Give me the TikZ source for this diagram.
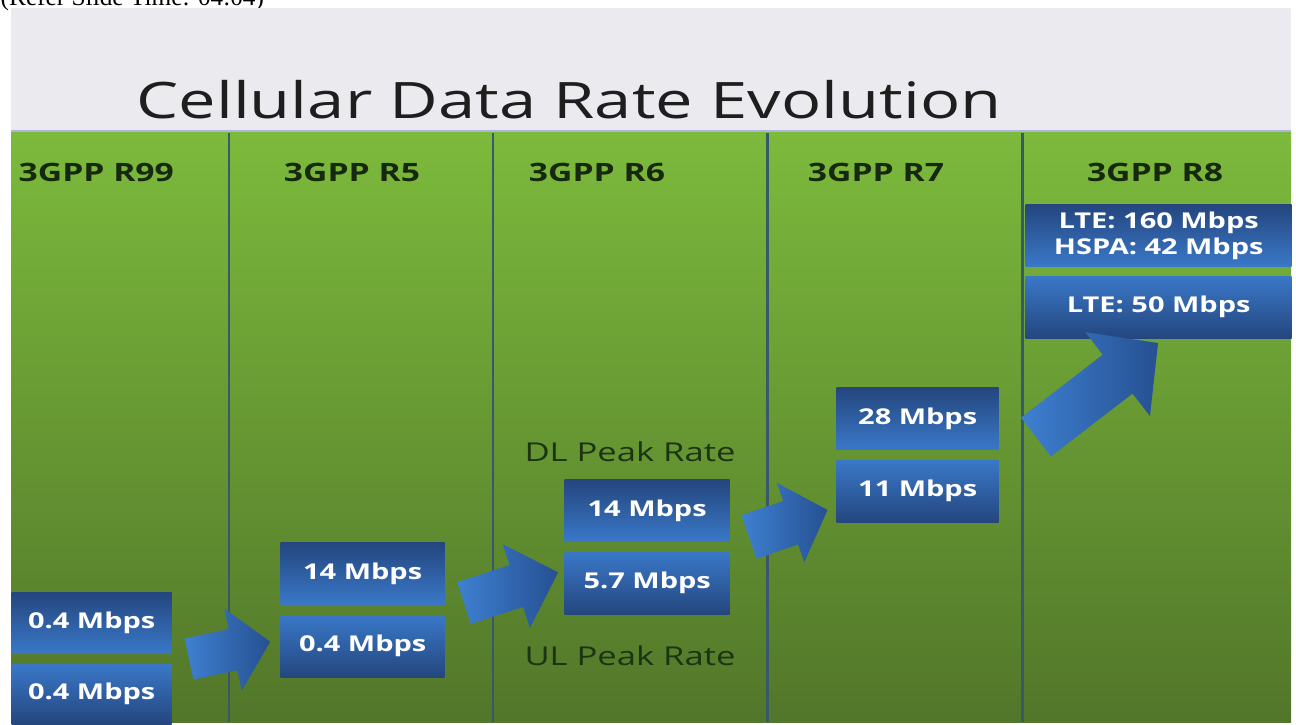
\documentclass[tikz,border=0pt]{standalone}
\usepackage{fontspec}
\setmainfont{Open Sans}[FakeStretch=1.33]
\newfontfamily\referfont{Liberation Serif}
\usepackage{tikz}
\usetikzlibrary{positioning}
\definecolor{slidegray}{RGB}{235,235,239}
\definecolor{greentop}{RGB}{124,186,60}
\definecolor{greenbot}{RGB}{82,118,42}
\definecolor{rateblue}{RGB}{58,120,200}
\definecolor{ratenavy}{RGB}{36,70,126}
\definecolor{arrowlight}{RGB}{62,128,208}
\definecolor{arrowdark}{RGB}{38,80,146}
\definecolor{divider}{RGB}{58,88,108}
\definecolor{headgreen}{RGB}{22,40,14}
\definecolor{peakgreen}{RGB}{28,52,18}
\definecolor{titlegray}{RGB}{30,30,30}
\tikzset{rate box/.style={minimum height=0.62cm,inner sep=0pt,text=white,align=center,
                          font=\fontsize{6.2}{7.6}\selectfont\bfseries},
         dl box/.style={rate box,top color=ratenavy,bottom color=rateblue},
         ul box/.style={rate box,top color=rateblue,bottom color=ratenavy},
         release/.style={inner sep=0pt,text=headgreen,font=\fontsize{7.2}{8}\selectfont\bfseries},
         peak/.style={inner sep=0pt,text=peakgreen,font=\fontsize{7.4}{8}\selectfont},
         divider line/.style={divider,line width=0.85pt},
         pics/block arrow/.style n args={4}{code={
           \shade[left color=arrowlight,right color=arrowdark]
             (0,-#2) -- ({#1-#4},-#2) -- ({#1-#4},-#3) -- (#1,0)
             -- ({#1-#4},#3) -- ({#1-#4},#2) -- (0,#2) -- cycle;
         }},
}

\begin{document}
\begin{tikzpicture}
	\useasboundingbox (0,0) rectangle (12.96,-7.25);
	\fill[white] (0,0) rectangle (12.96,-7.25);
	\node[anchor=base west,inner sep=0pt,font=\referfont\fontsize{7.2}{8}\selectfont] (refer) at (0,-0.06) {(Refer Slide Time: 04:04)};

	% slide and green band
	\fill[slidegray] (0.11,-0.08) rectangle (12.91,-7.22);
	\shade[top color=greentop,bottom color=greenbot] (0.11,-1.32) rectangle (12.91,-7.22);
	\draw[black!40!blue!30!white,line width=0.6pt] (0.11,-1.31) -- (12.91,-1.31);
	\foreach \x in {2.29,4.93,7.67,10.22}
		\draw[divider line] (\x,-1.33) -- (\x,-7.22);

	\node[inner sep=0pt,text=titlegray,font=\fontsize{14.3}{16}\selectfont] (title) at (5.69,-1.00) {Cellular Data Rate Evolution};

	% release headers
	\node[release,anchor=west] (r99) at (0.18,-1.72) {3GPP R99};
	\node[release] (r5) at (3.52,-1.72) {3GPP R5};
	\node[release] (r6) at (5.97,-1.72) {3GPP R6};
	\node[release] (r7) at (8.76,-1.72) {3GPP R7};
	\node[release] (r8) at (11.55,-1.72) {3GPP R8};

	% peak rates, downlink above uplink
	\node[dl box,minimum width=1.60cm,minimum height=0.61cm,anchor=north west] (r99dl) at (0.11,-5.92) {0.4 Mbps};
	\node[ul box,minimum width=1.60cm,minimum height=0.60cm,below=0.09cm of r99dl] (r99ul) {0.4 Mbps};
	\node[dl box,minimum width=1.64cm,anchor=north west] (r5dl) at (2.80,-5.42) {14 Mbps};
	\node[ul box,minimum width=1.64cm,below=0.09cm of r5dl] (r5ul) {0.4 Mbps};
	\node[dl box,minimum width=1.65cm,anchor=north west] (r6dl) at (5.64,-4.79) {14 Mbps};
	\node[ul box,minimum width=1.65cm,below=0.09cm of r6dl] (r6ul) {5.7 Mbps};
	\node[dl box,minimum width=1.62cm,anchor=north west] (r7dl) at (8.36,-3.87) {28 Mbps};
	\node[ul box,minimum width=1.62cm,below=0.09cm of r7dl] (r7ul) {11 Mbps};
	\node[dl box,minimum width=2.66cm,anchor=north west] (r8dl) at (10.25,-2.04) {LTE: 160 Mbps\\HSPA: 42 Mbps};
	\node[ul box,minimum width=2.66cm,below=0.08cm of r8dl] (r8ul) {LTE: 50 Mbps};

	\node[peak] (dlpeak) at (6.30,-4.52) {DL Peak Rate};
	\node[peak] (ulpeak) at (6.30,-6.56) {UL Peak Rate};

	% arrows between releases
	\pic[rotate=12] at (1.89,-6.59) {block arrow={0.83}{0.21}{0.42}{0.38}};
	\pic[rotate=18] at (4.64,-6.03) {block arrow={0.99}{0.22}{0.44}{0.44}};
	\pic[rotate=19] at (7.49,-5.37) {block arrow={0.83}{0.23}{0.42}{0.39}};
	\pic[rotate=37.6] at (10.36,-4.37) {block arrow={1.54}{0.245}{0.53}{0.51}};
\end{tikzpicture}
\end{document}
